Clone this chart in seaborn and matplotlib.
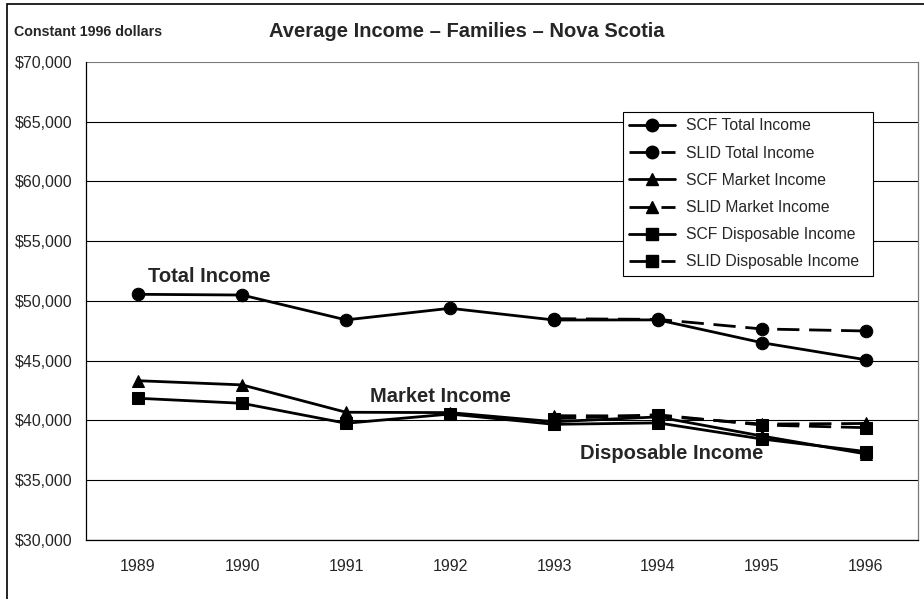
import matplotlib
matplotlib.use('Agg')
import matplotlib.pyplot as plt
import seaborn as sns
import pandas as pd
from matplotlib.lines import Line2D
from matplotlib.patches import Rectangle

# Data (constant 1996 dollars)
years = ['1989', '1990', '1991', '1992', '1993', '1994', '1995', '1996']
scf_total = [50560, 50500, 48420, 49390, 48410, 48420, 46510, 45080]
slid_total = [None, None, None, None, 48520, 48460, 47660, 47490]
scf_market = [43330, 42980, 40690, 40660, 39900, 40300, 38700, 37200]
slid_market = [None, None, None, None, 40400, 40380, 39700, 39750]
scf_disp = [41860, 41440, 39770, 40540, 39680, 39800, 38450, 37400]
slid_disp = [None, None, None, None, 40150, 40480, 39620, 39400]

series_names = ['SCF Total Income', 'SLID Total Income', 'SCF Market Income',
                'SLID Market Income', 'SCF Disposable Income', 'SLID Disposable Income']
series_values = [scf_total, slid_total, scf_market, slid_market, scf_disp, slid_disp]
series_markers = ['o', 'o', '^', '^', 's', 's']
series_dashed = [False, True, False, True, False, True]

y_ticks = [30000, 35000, 40000, 45000, 50000, 55000, 60000, 65000, 70000]

sns.set_theme(style='white')
plt.rcParams['font.family'] = ['Liberation Sans', 'DejaVu Sans']

fig = plt.figure(figsize=(9.24, 5.99), dpi=100)
ax = fig.add_axes([0.0931, 0.0985, 0.9004, 0.798])

# Outer chart frame
fig.patches.append(Rectangle((0.0076, -0.02), 1.05, 1.0133, transform=fig.transFigure,
                             fill=False, edgecolor='black', linewidth=1.2, clip_on=False))

ax.set_ylim(30000, 70000)
ax.set_xlim(-0.5, len(years) - 0.5)
ax.set_yticks(y_ticks)
ax.set_yticklabels([f'${v:,.0f}' for v in y_ticks], fontsize=11.5)
for v in y_ticks:
    ax.axhline(v, color='#7a7a7a' if v == 70000 else 'black', linewidth=0.8, zorder=1)

dash_style = (0, (8, 3.5))
handles = []
for name, vals, mk, dashed in zip(series_names, series_values, series_markers, series_dashed):
    df = pd.DataFrame({'x': range(len(years)), 'value': vals}).dropna()
    ls = dash_style if dashed else '-'
    sns.lineplot(data=df, x='x', y='value', ax=ax, color='black', linewidth=2,
                 marker=mk, markersize=9, markeredgecolor='black', markerfacecolor='black',
                 linestyle=ls, zorder=3)
    handles.append(Line2D([], [], color='black', linewidth=2, linestyle=ls, marker=mk,
                          markersize=9, markerfacecolor='black', markeredgecolor='black'))

# Category ticks: labels in the centre, tick marks between categories
ax.set_xticks(range(len(years)))
ax.set_xticklabels(years, fontsize=11.5)
ax.set_xticks([i - 0.5 for i in range(len(years) + 1)], minor=True)
ax.tick_params(axis='x', which='major', length=0, pad=14)
ax.tick_params(axis='x', which='minor', length=5, width=0.8, color='black', direction='out')
ax.tick_params(axis='y', length=5, width=0.8, color='black', direction='out', pad=4.5)
ax.set_xlabel('')
ax.set_ylabel('')

for side in ['left', 'bottom']:
    ax.spines[side].set_color('black')
    ax.spines[side].set_linewidth(0.9)
ax.spines['right'].set_color('#7a7a7a')
ax.spines['right'].set_linewidth(0.9)
ax.spines['top'].set_visible(False)

# Legend box stretched to the reference width, entries left aligned
leg = ax.legend(handles, series_names, loc='upper left', mode='expand',
                bbox_to_anchor=(0.6454, 0.0, 0.3005, 0.8954),
                borderaxespad=0, fontsize=11.3, handlelength=2.9, labelspacing=0.78,
                fancybox=False, framealpha=1, edgecolor='black', borderpad=0.4,
                handletextpad=0.7)
leg.get_frame().set_linewidth(0.8)

ax.text(0.096, 52090, 'Total Income', fontsize=14.5, fontweight='bold', va='center')
ax.text(2.23, 42050, 'Market Income', fontsize=14.5, fontweight='bold', va='center')
ax.text(4.25, 37280, 'Disposable Income', fontsize=14.5, fontweight='bold', va='center')

fig.text(0.505, 0.9466, 'Average Income \u2013 Families \u2013 Nova Scotia', fontsize=14.5,
         fontweight='bold', ha='center', va='center')
fig.text(0.015, 0.9466, 'Constant 1996 dollars', fontsize=10.3, fontweight='bold',
         ha='left', va='center')

fig.savefig('out.png', dpi=100)
